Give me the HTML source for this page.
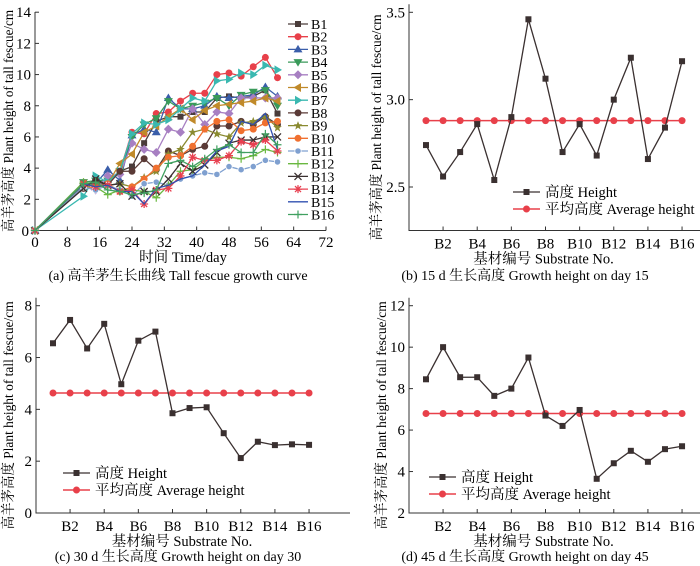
<!DOCTYPE html>
<html><head><meta charset="utf-8"><style>
body{margin:0;background:#fff}
svg{display:block;font-family:"Liberation Serif","Noto Serif CJK SC",serif}
</style></head><body>
<svg id="s" width="700" height="566" viewBox="0 0 700 566">
<text x="178" y="280" font-size="14" text-anchor="middle">(a) 高羊茅生长曲线 Tall fescue growth curve</text>
<text x="525" y="280" font-size="14" text-anchor="middle">(b) 15 d 生长高度 Growth height on day 15</text>
<text x="178" y="561" font-size="14" text-anchor="middle">(c) 30 d 生长高度 Growth height on day 30</text>
<text x="525" y="561" font-size="14" text-anchor="middle">(d) 45 d 生长高度 Growth height on day 45</text>
</svg>
<script>
const days=[0,12,15,18,21,24,27,30,33,36,39,42,45,48,51,54,57,60];
const seriesNames=["B1","B2","B3","B4","B5","B6","B7","B8","B9","B10","B11","B12","B13","B14","B15","B16"];
const B1=[0,2.9,3.0,3.0,3.8,4.1,5.6,7.0,7.3,7.3,7.6,7.6,8.5,8.6,8.5,8.6,9.0,7.5];
const B2=[0,3.0,2.8,3.0,3.8,6.3,6.2,7.5,7.6,8.3,8.8,8.8,10.0,10.1,9.9,10.5,11.1,9.8];
const B3=[0,2.9,3.0,3.9,3.2,6.1,6.5,6.3,8.5,7.8,7.8,8.0,8.6,8.5,8.6,8.7,9.2,8.6];
const B4=[0,3.1,3.2,3.2,3.8,6.0,6.8,7.2,8.3,7.8,8.0,8.2,8.5,8.0,8.7,8.9,9.0,8.0];
const B5=[0,2.8,2.6,3.5,3.6,5.6,5.2,5.0,6.5,6.3,7.8,6.8,7.6,7.5,8.5,8.5,8.5,8.5];
const B6=[0,3.0,3.1,3.0,4.3,4.9,6.3,6.7,7.3,7.8,7.1,7.7,8.0,8.1,8.2,8.3,8.5,8.3];
const B7=[0,2.2,3.5,3.1,3.8,6.2,6.9,6.8,7.1,7.8,8.5,8.3,9.6,9.7,10.1,10.0,10.6,10.3];
const B8=[0,2.7,3.2,2.9,3.8,3.8,4.6,3.9,5.1,4.8,5.2,5.4,6.7,6.7,7.0,6.8,7.3,6.8];
const B9=[0,2.8,2.9,2.9,3.0,2.8,3.4,3.8,4.9,5.2,6.3,6.5,6.2,6.0,6.9,7.0,7.3,6.6];
const B10=[0,2.8,2.7,3.0,2.5,2.8,3.3,4.0,4.7,4.8,5.4,6.5,7.0,7.1,6.4,6.5,6.9,7.0];
const B11=[0,2.8,2.6,2.9,2.6,2.2,3.0,3.1,2.9,3.3,3.5,3.7,3.6,4.1,3.9,4.1,4.5,4.4];
const B12=[0,3.1,2.8,2.3,2.6,2.6,2.5,2.1,2.9,3.8,3.9,4.5,4.7,4.7,4.6,4.8,5.2,5.0];
const B13=[0,2.7,3.3,2.9,3.0,2.2,2.5,2.5,3.3,4.3,3.8,4.2,5.0,5.6,5.8,5.8,6.0,6.0];
const B14=[0,3.0,2.8,2.9,2.5,2.6,1.7,2.6,2.7,3.5,4.7,4.5,4.5,4.8,5.7,5.5,5.8,5.1];
const B15=[0,3.0,2.8,2.9,2.5,2.5,1.7,2.7,2.9,3.3,3.5,4.2,5.1,5.4,7.0,6.8,7.5,5.2];
const B16=[0,3.0,3.1,2.6,2.5,2.3,2.4,2.6,4.3,4.5,4.1,4.6,5.2,5.5,5.0,5.0,6.2,5.5];
const substrates=["B1","B2","B3","B4","B5","B6","B7","B8","B9","B10","B11","B12","B13","B14","B15","B16"];
const h15=[2.74,2.56,2.70,2.86,2.54,2.90,3.46,3.12,2.70,2.86,2.68,3.00,3.24,2.66,2.84,3.22];
const avg15=2.88;
const h30=[6.55,7.45,6.35,7.3,4.97,6.65,7.0,3.85,4.05,4.08,3.08,2.12,2.75,2.62,2.65,2.63];
const avg30=4.63;
const h45=[8.45,10.0,8.55,8.55,7.65,8.0,9.5,6.7,6.2,6.97,3.65,4.4,5.0,4.47,5.08,5.22];
const avg45=6.8;
const ticksA_x=[0,8,16,24,32,40,48,56,64,72];
const ticksA_y=[2,4,6,8,10,12,14];

const S=document.getElementById('s');const NS="http://www.w3.org/2000/svg";
function mk(t,a,p){const e=document.createElementNS(NS,t);for(const k in a)e.setAttribute(k,a[k]);(p||S).appendChild(e);return e;}
function marker(kind,x,y,c,g){
  const r=3.5;let e;
  if(kind==='sq')e=mk('rect',{x:x-3,y:y-3,width:6,height:6,fill:c},g);
  else if(kind==='ci')e=mk('circle',{cx:x,cy:y,r:r,fill:c},g);
  else if(kind==='up')e=mk('polygon',{points:`${x},${y-4.5} ${x-4.5},${y+3} ${x+4.5},${y+3}`,fill:c},g);
  else if(kind==='dn')e=mk('polygon',{points:`${x},${y+4.5} ${x-4.5},${y-3} ${x+4.5},${y-3}`,fill:c},g);
  else if(kind==='di')e=mk('polygon',{points:`${x},${y-4.5} ${x+4.5},${y} ${x},${y+4.5} ${x-4.5},${y}`,fill:c},g);
  else if(kind==='lt')e=mk('polygon',{points:`${x-4.5},${y} ${x+3},${y-4.5} ${x+3},${y+4.5}`,fill:c},g);
  else if(kind==='rt')e=mk('polygon',{points:`${x+4.5},${y} ${x-3},${y-4.5} ${x-3},${y+4.5}`,fill:c},g);
  else if(kind==='st')e=mk('polygon',{points:`${x},${y-4.5} ${x+1.2},${y-1.4} ${x+4.3},${y-1.4} ${x+1.8},${y+0.6} ${x+2.7},${y+4} ${x},${y+2} ${x-2.7},${y+4} ${x-1.8},${y+0.6} ${x-4.3},${y-1.4} ${x-1.2},${y-1.4}`,fill:c},g);
  else if(kind==='oc')e=mk('circle',{cx:x,cy:y,r:3.2,fill:c,stroke:'#fff','stroke-width':0.8},g);
  else if(kind==='pl')e=mk('path',{d:`M${x-4} ${y}H${x+4}M${x} ${y-4}V${y+4}`,stroke:c,'stroke-width':1.2},g);
  else if(kind==='x')e=mk('path',{d:`M${x-3.5} ${y-3.5}L${x+3.5} ${y+3.5}M${x+3.5} ${y-3.5}L${x-3.5} ${y+3.5}`,stroke:c,'stroke-width':1.3},g);
  else if(kind==='as')e=mk('path',{d:`M${x-4} ${y}H${x+4}M${x-3} ${y-3}L${x+3} ${y+3}M${x+3} ${y-3}L${x-3} ${y+3}M${x} ${y-4}V${y+4}`,stroke:c,'stroke-width':1.3},g);
  return e;
}
// Panel A
const gA=mk('g',{});


const ax=d=>35+d*(291/72), ay=v=>230.5-v*(218.3/14);
mk('path',{d:`M35 12V230.5H326`,stroke:'#333',fill:'none','stroke-width':1},gA);
ticksA_x.forEach(t=>{mk('path',{d:`M${ax(t)} 230.5v-4`,stroke:'#333'},gA);
 const e=mk('text',{x:ax(t),y:247,'font-size':15,'text-anchor':'middle'},gA);e.textContent=t;
 });
ticksA_y.forEach(t=>{mk('path',{d:`M35 ${ay(t)}h4`,stroke:'#333'},gA);
 const e=mk('text',{x:31,y:ay(t)+5,'font-size':15,'text-anchor':'end'},gA);e.textContent=t;
 });
{const e=mk('text',{x:29,y:236,'font-size':15,'text-anchor':'end'},gA);e.textContent='0';}
{const e=mk('text',{x:183,y:262,'font-size':14.5,'text-anchor':'middle'},gA);e.textContent='时间 Time/day';
 }
{const e=mk('text',{x:0,y:0,'font-size':14,'text-anchor':'middle',textLength:222,lengthAdjust:'spacingAndGlyphs',transform:'translate(13,121) rotate(-90)'},gA);e.textContent='高羊茅高度 Plant height of tall fescue/cm';
 }
const allSeries=[B1,B2,B3,B4,B5,B6,B7,B8,B9,B10,B11,B12,B13,B14,B15,B16];
const colors=["#4a3c3a","#e8404a","#3a5eaa","#3a9a5a","#a77fc2","#c08a2a","#3ab8b0","#5a3a36","#8a8a30","#f07030","#7fa0d0","#6ab840","#3a3030","#e84050","#3050b0","#40a060"];
const kinds=["sq","ci","up","dn","di","lt","rt","ci","st","ci","oc","pl","x","as","none","pl"];
allSeries.forEach((arr,i)=>{
  const g=mk('g',{},gA);
  
  
  mk('polyline',{points:arr.map((v,j)=>ax(days[j])+','+ay(v)).join(' '),fill:'none',stroke:colors[i],'stroke-width':1.3},g);
  arr.forEach((v,j)=>marker(kinds[i],ax(days[j]),ay(v),colors[i],g));
  const ly=24+i*12.7;
  const lg=mk('g',{},gA);
  
  
  mk('path',{d:`M288 ${ly}H308`,stroke:colors[i],'stroke-width':1.3},lg);
  marker(kinds[i],298,ly,colors[i],lg);
  const t=mk('text',{x:311,y:ly+5,'font-size':14},lg);t.textContent=seriesNames[i];
});
// Line panels
function panel(ox,oy,bottom,top,ymin,ymax,yticks,yfmt,right,vals,avg,name,legY,legX,titleX,titleLen){
  const g=mk('g',{});
  
  
  const left=ox;
  const px=i=>left+17+i*17.07;
  const py=v=>bottom-(v-ymin)/(ymax-ymin)*(bottom-top);
  mk('path',{d:`M${left} ${top-8}V${bottom}H${right}`,stroke:'#333',fill:'none'},g);
  yticks.forEach(t=>{mk('path',{d:`M${left} ${py(t)}h4`,stroke:'#333'},g);
    const e=mk('text',{x:left-4,y:py(t)+5,'font-size':15,'text-anchor':'end'},g);e.textContent=yfmt(t);
    });
  substrates.forEach((s,i)=>{ if(i%2==1){mk('path',{d:`M${px(i)} ${bottom}v-4`,stroke:'#333'},g);
    const e=mk('text',{x:px(i),y:bottom+18,'font-size':15,'text-anchor':'middle'},g);e.textContent=s;
    }});
  {const e=mk('text',{x:left+(right-left)/2-11,y:bottom+33,'font-size':14.5,'text-anchor':'middle'},g);e.textContent='基材编号 Substrate No.';
   }
  {const e=mk('text',{x:0,y:0,'font-size':14,'text-anchor':'middle',textLength:titleLen,lengthAdjust:'spacingAndGlyphs',transform:`translate(${titleX},${(top+bottom)/2+6}) rotate(-90)`},g);e.textContent='高羊茅高度 Plant height of tall fescue/cm';
   }
  const ga=mk('g',{},g);
  mk('path',{d:`M${px(0)} ${py(avg)}H${px(15)}`,stroke:'#e8404a','stroke-width':1.5},ga);
  vals.forEach((v,i)=>marker('ci',px(i),py(avg),'#e8404a',ga));
  const gh=mk('g',{},g);
  mk('polyline',{points:vals.map((v,i)=>px(i)+','+py(v)).join(' '),fill:'none',stroke:'#3a3030','stroke-width':1.3},gh);
  vals.forEach((v,i)=>marker('sq',px(i),py(v),'#3a3030',gh));
  const l1=mk('g',{},g);
  mk('path',{d:`M${legX} ${legY}h27`,stroke:'#3a3030','stroke-width':1.3},l1);marker('sq',legX+13.5,legY,'#3a3030',l1);
  {const t=mk('text',{x:legX+32,y:legY+5,'font-size':14.5},l1);t.textContent='高度 Height';}
  const l2=mk('g',{},g);
  mk('path',{d:`M${legX} ${legY+17}h27`,stroke:'#e8404a','stroke-width':1.5},l2);marker('ci',legX+13.5,legY+17,'#e8404a',l2);
  {const t=mk('text',{x:legX+32,y:legY+22,'font-size':14.5},l2);t.textContent='平均高度 Average height';}
}
panel(409,0,230.5,12.3,2.5-43.5/174.7,3.5,[2.5,3.0,3.5],t=>t.toFixed(1),700,h15,avg15,'day15-chart',192,513,381,226);
panel(36,285,513,305.7,0,8,[0,2,4,6,8],t=>t,350,h30,avg30,'day30-chart',473,63,13,228);
panel(409,285,513,305.7,2,12,[2,4,6,8,10,12],t=>t,700,h45,avg45,'day45-chart',477,429,386,228);
</script>
</body></html>
